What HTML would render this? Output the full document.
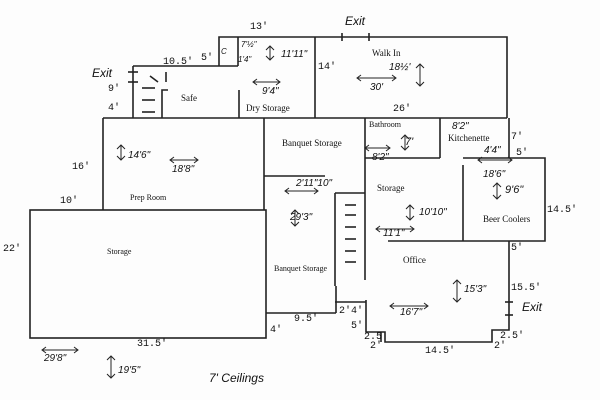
<!DOCTYPE html>
<html><head><meta charset="utf-8"><style>
html,body{margin:0;padding:0;background:#fff;}
svg{display:block}
.t{font-family:"Liberation Serif",serif;font-size:9px;fill:#111}
.m{font-family:"Liberation Mono",monospace;font-size:10px;fill:#111}
.h{font-family:"Liberation Sans",sans-serif;font-style:italic;font-size:10px;fill:#111}
</style></head><body>
<svg width="600" height="400" viewBox="0 0 600 400" xmlns="http://www.w3.org/2000/svg">
<rect width="600" height="400" fill="#fdfdfd"/>
<g stroke="#222" stroke-width="1.6" fill="none">
<polyline points="219,66 219,37 507,37 507,118"/>
<line x1="238" y1="37" x2="238" y2="66"/>
<line x1="133" y1="66" x2="238" y2="66"/>
<line x1="315" y1="37" x2="315" y2="118"/>
<line x1="239" y1="90" x2="239" y2="118"/>
<line x1="133" y1="66" x2="133" y2="118"/>
<polyline points="168,90 162,90 162,118"/>
<line x1="166" y1="72" x2="166" y2="82"/>
<line x1="150" y1="76" x2="158" y2="82"/>
<line x1="142" y1="88" x2="155" y2="88"/>
<line x1="142" y1="100" x2="155" y2="100"/>
<line x1="142" y1="112" x2="155" y2="112"/>
<line x1="128" y1="72" x2="138" y2="72"/>
<line x1="128" y1="82" x2="138" y2="82"/>
<line x1="103" y1="118" x2="507" y2="118"/>
<line x1="103" y1="118" x2="103" y2="210"/>
<line x1="264" y1="118" x2="264" y2="210"/>
<line x1="264" y1="176" x2="325" y2="176"/>
<rect x="30" y="210" width="236" height="128"/>
<line x1="266" y1="313" x2="336" y2="313"/>
<line x1="335" y1="193" x2="335" y2="286"/>
<line x1="335" y1="193" x2="365" y2="193"/>
<line x1="345" y1="205" x2="356" y2="205"/>
<line x1="345" y1="215" x2="356" y2="215"/>
<line x1="345" y1="227" x2="356" y2="227"/>
<line x1="345" y1="239" x2="356" y2="239"/>
<line x1="345" y1="251" x2="356" y2="251"/>
<line x1="345" y1="262" x2="356" y2="262"/>
<line x1="336" y1="286" x2="336" y2="313"/>
<line x1="365" y1="118" x2="365" y2="280"/>
<line x1="365" y1="158" x2="440" y2="158"/>
<line x1="440" y1="118" x2="440" y2="158"/>
<line x1="463" y1="165" x2="463" y2="241"/>
<polyline points="463,158 545,158 545,241 388,241"/>
<line x1="509" y1="118" x2="509" y2="158"/>
<polyline points="509,241 509,330 492,330 492,342 385,342 385,332 366,332 366,300"/>
<line x1="335" y1="302" x2="366" y2="302"/>
<line x1="381" y1="332" x2="381" y2="342"/>
<line x1="342" y1="33" x2="342" y2="41"/>
<line x1="369" y1="33" x2="369" y2="41"/>
<line x1="505" y1="302" x2="513" y2="302"/>
<line x1="505" y1="315" x2="513" y2="315"/>
</g>
<g class="t">
<text x="372" y="56">Walk In</text>
<text x="181" y="101">Safe</text>
<text x="246" y="111">Dry Storage</text>
<text x="282" y="146">Banquet Storage</text>
<text x="369" y="127" font-size="8">Bathroom</text>
<text x="448" y="141">Kitchenette</text>
<text x="377" y="191">Storage</text>
<text x="483" y="222">Beer Coolers</text>
<text x="403" y="263">Office</text>
<text x="130" y="200" font-size="8">Prep Room</text>
<text x="107" y="254" font-size="8">Storage</text>
<text x="274" y="271" font-size="8">Banquet Storage</text>
</g>
<g class="m">
<text x="250" y="29">13'</text>
<text x="163" y="64">10.5'</text>
<text x="201" y="60">5'</text>
<text x="108" y="91">9'</text>
<text x="108" y="110">4'</text>
<text x="318" y="69">14'</text>
<text x="393" y="111">26'</text>
<text x="511" y="139">7'</text>
<text x="516" y="155">5'</text>
<text x="72" y="169">16'</text>
<text x="60" y="203">10'</text>
<text x="3" y="251">22'</text>
<text x="547" y="212">14.5'</text>
<text x="511" y="250">5'</text>
<text x="511" y="290">15.5'</text>
<text x="137" y="346">31.5'</text>
<text x="270" y="332">4'</text>
<text x="294" y="321">9.5'</text>
<text x="339" y="313">2'4'</text>
<text x="351" y="328">5'</text>
<text x="364" y="339">2.5</text>
<text x="370" y="348">2'</text>
<text x="425" y="353">14.5'</text>
<text x="500" y="338">2.5'</text>
<text x="494" y="348">2'</text>
</g>
<g class="h">
<text x="92" y="77" font-size="12">Exit</text>
<text x="345" y="25" font-size="12">Exit</text>
<text x="522" y="311" font-size="12">Exit</text>
<text x="209" y="382" font-size="12">7' Ceilings</text>
<text x="241" y="47" font-size="8">7'½"</text>
<text x="238" y="62" font-size="8">1'4"</text>
<text x="221" y="54" font-size="8">C</text>
<text x="281" y="57">11'11"</text>
<text x="262" y="94">9'4"</text>
<text x="128" y="158">14'6"</text>
<text x="172" y="172">18'8"</text>
<text x="389" y="70">18½'</text>
<text x="370" y="90">30'</text>
<text x="372" y="160">8'2"</text>
<text x="405" y="145" font-size="11">7'</text>
<text x="452" y="129">8'2"</text>
<text x="484" y="153">4'4"</text>
<text x="483" y="177">18'6"</text>
<text x="505" y="193" font-size="11">9'6"</text>
<text x="296" y="186">2'11"10"</text>
<text x="290" y="220">29'3"</text>
<text x="419" y="215">10'10"</text>
<text x="383" y="236">11'1"</text>
<text x="464" y="292">15'3"</text>
<text x="400" y="315">16'7"</text>
<text x="44" y="361">29'8"</text>
<text x="118" y="373">19'5"</text>
</g>
<g stroke="#222" stroke-width="1" fill="none">
<path d="M295,210 L295,226 M291,214 L295,210 L299,214 M291,222 L295,226 L299,222"/>
<path d="M121,145 L121,160 M117,149 L121,145 L125,149 M117,156 L121,160 L125,156"/>
<path d="M170,160 L198,160 M174,157 L170,160 L174,163 M194,157 L198,160 L194,163"/>
<path d="M253,82 L280,82 M257,79 L253,82 L257,85 M276,79 L280,82 L276,85"/>
<path d="M270,46 L270,60 M266,50 L270,46 L274,50 M266,56 L270,60 L274,56"/>
<path d="M357,78 L396,78 M361,75 L357,78 L361,81 M392,75 L396,78 L392,81"/>
<path d="M420,64 L420,86 M416,68 L420,64 L424,68 M416,82 L420,86 L424,82"/>
<path d="M365,148 L390,148 M369,145 L365,148 L369,151 M386,145 L390,148 L386,151"/>
<path d="M405,135 L405,150 M401,139 L405,135 L409,139 M401,146 L405,150 L409,146"/>
<path d="M410,205 L410,220 M406,209 L410,205 L414,209 M406,216 L410,220 L414,216"/>
<path d="M376,229 L414,229 M380,226 L376,229 L380,232 M410,226 L414,229 L410,232"/>
<path d="M478,160 L512,160 M482,157 L478,160 L482,163 M508,157 L512,160 L508,163"/>
<path d="M497,183 L497,199 M493,187 L497,183 L501,187 M493,195 L497,199 L501,195"/>
<path d="M457,280 L457,302 M453,284 L457,280 L461,284 M453,298 L457,302 L461,298"/>
<path d="M390,306 L428,306 M394,303 L390,306 L394,309 M424,303 L428,306 L424,309"/>
<path d="M42,350 L78,350 M46,347 L42,350 L46,353 M74,347 L78,350 L74,353"/>
<path d="M111,356 L111,378 M107,360 L111,356 L115,360 M107,374 L111,378 L115,374"/>
<path d="M285,191 L318,191 M289,188 L285,191 L289,194 M314,188 L318,191 L314,194"/>
</g>
</svg>
</body></html>
